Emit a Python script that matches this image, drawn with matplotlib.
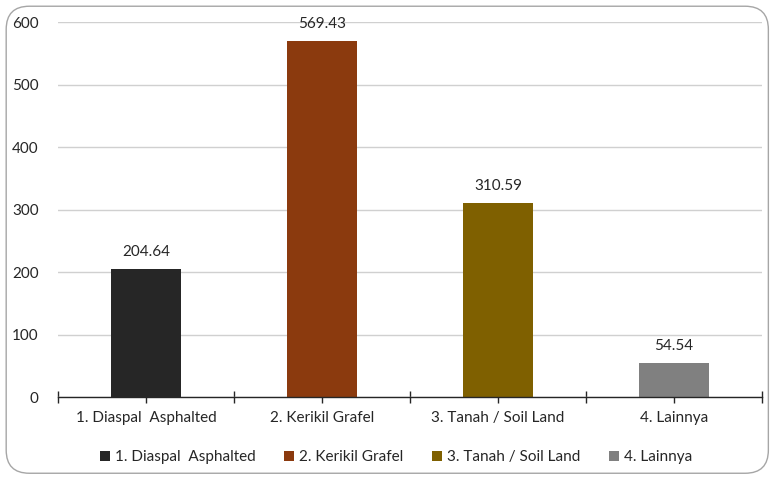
import matplotlib.pyplot as plt
from matplotlib.patches import FancyBboxPatch
from matplotlib.ticker import FixedLocator, NullFormatter

categories = ["1. Diaspal  Asphalted", "2. Kerikil Grafel", "3. Tanah / Soil Land", "4. Lainnya"]
values = [204.64, 569.43, 310.59, 54.54]
colors = ["#262626", "#8B3A0E", "#7F6000", "#808080"]

plt.rcParams["font.family"] = ["Lato", "DejaVu Sans"]

fig = plt.figure(figsize=(7.73, 4.79), dpi=100)
ax = fig.add_axes([0.075, 0.171, 0.911, 0.783])

# rounded outer frame
frame = FancyBboxPatch((0.008, 0.012), 0.986, 0.975, boxstyle="round,pad=0,rounding_size=0.03",
                       transform=fig.transFigure, facecolor="none", edgecolor="#a6a6a6",
                       linewidth=1.0, mutation_aspect=773 / 479)
fig.patches.append(frame)

x = list(range(len(categories)))
bars = ax.bar(x, values, width=0.4, color=colors, zorder=3)
for xi, v in zip(x, values):
    ax.annotate(f"{v:.2f}", (xi, v), xytext=(0, 7), textcoords="offset points",
                ha="center", va="bottom", fontsize=11, color="#262626")

ax.set_xlim(-0.5, len(categories) - 0.5)
ax.set_ylim(0, 600)
ax.set_yticks(range(0, 601, 100))
ax.yaxis.grid(True, color="#d0d0d0", linewidth=1.0, zorder=0)
ax.tick_params(axis="y", length=0, pad=14, labelsize=11, labelcolor="#262626")

# boundary ticks (major) and centered labels (minor)
ax.xaxis.set_major_locator(FixedLocator([i - 0.5 for i in range(len(categories) + 1)]))
ax.xaxis.set_major_formatter(NullFormatter())
ax.xaxis.set_minor_locator(FixedLocator(x))
ax.set_xticklabels(categories, minor=True)
ax.tick_params(axis="x", which="major", direction="inout", length=9, width=1, color="#262626")
ax.tick_params(axis="x", which="minor", direction="out", length=4, width=1, color="#262626",
               labelsize=11, labelcolor="#262626", pad=6)

for s in ["top", "right", "left"]:
    ax.spines[s].set_visible(False)
ax.spines["bottom"].set_color("#262626")
ax.spines["bottom"].set_linewidth(1.0)
ax.spines["bottom"].set_zorder(4)

ax.legend(bars, categories, loc="upper center", bbox_to_anchor=(0.48, -0.105), ncol=4,
          frameon=False, fontsize=11, handlelength=0.65, handleheight=0.65,
          handletextpad=0.3, columnspacing=1.9, labelcolor="#262626")

fig.savefig("out.png", dpi=100)
